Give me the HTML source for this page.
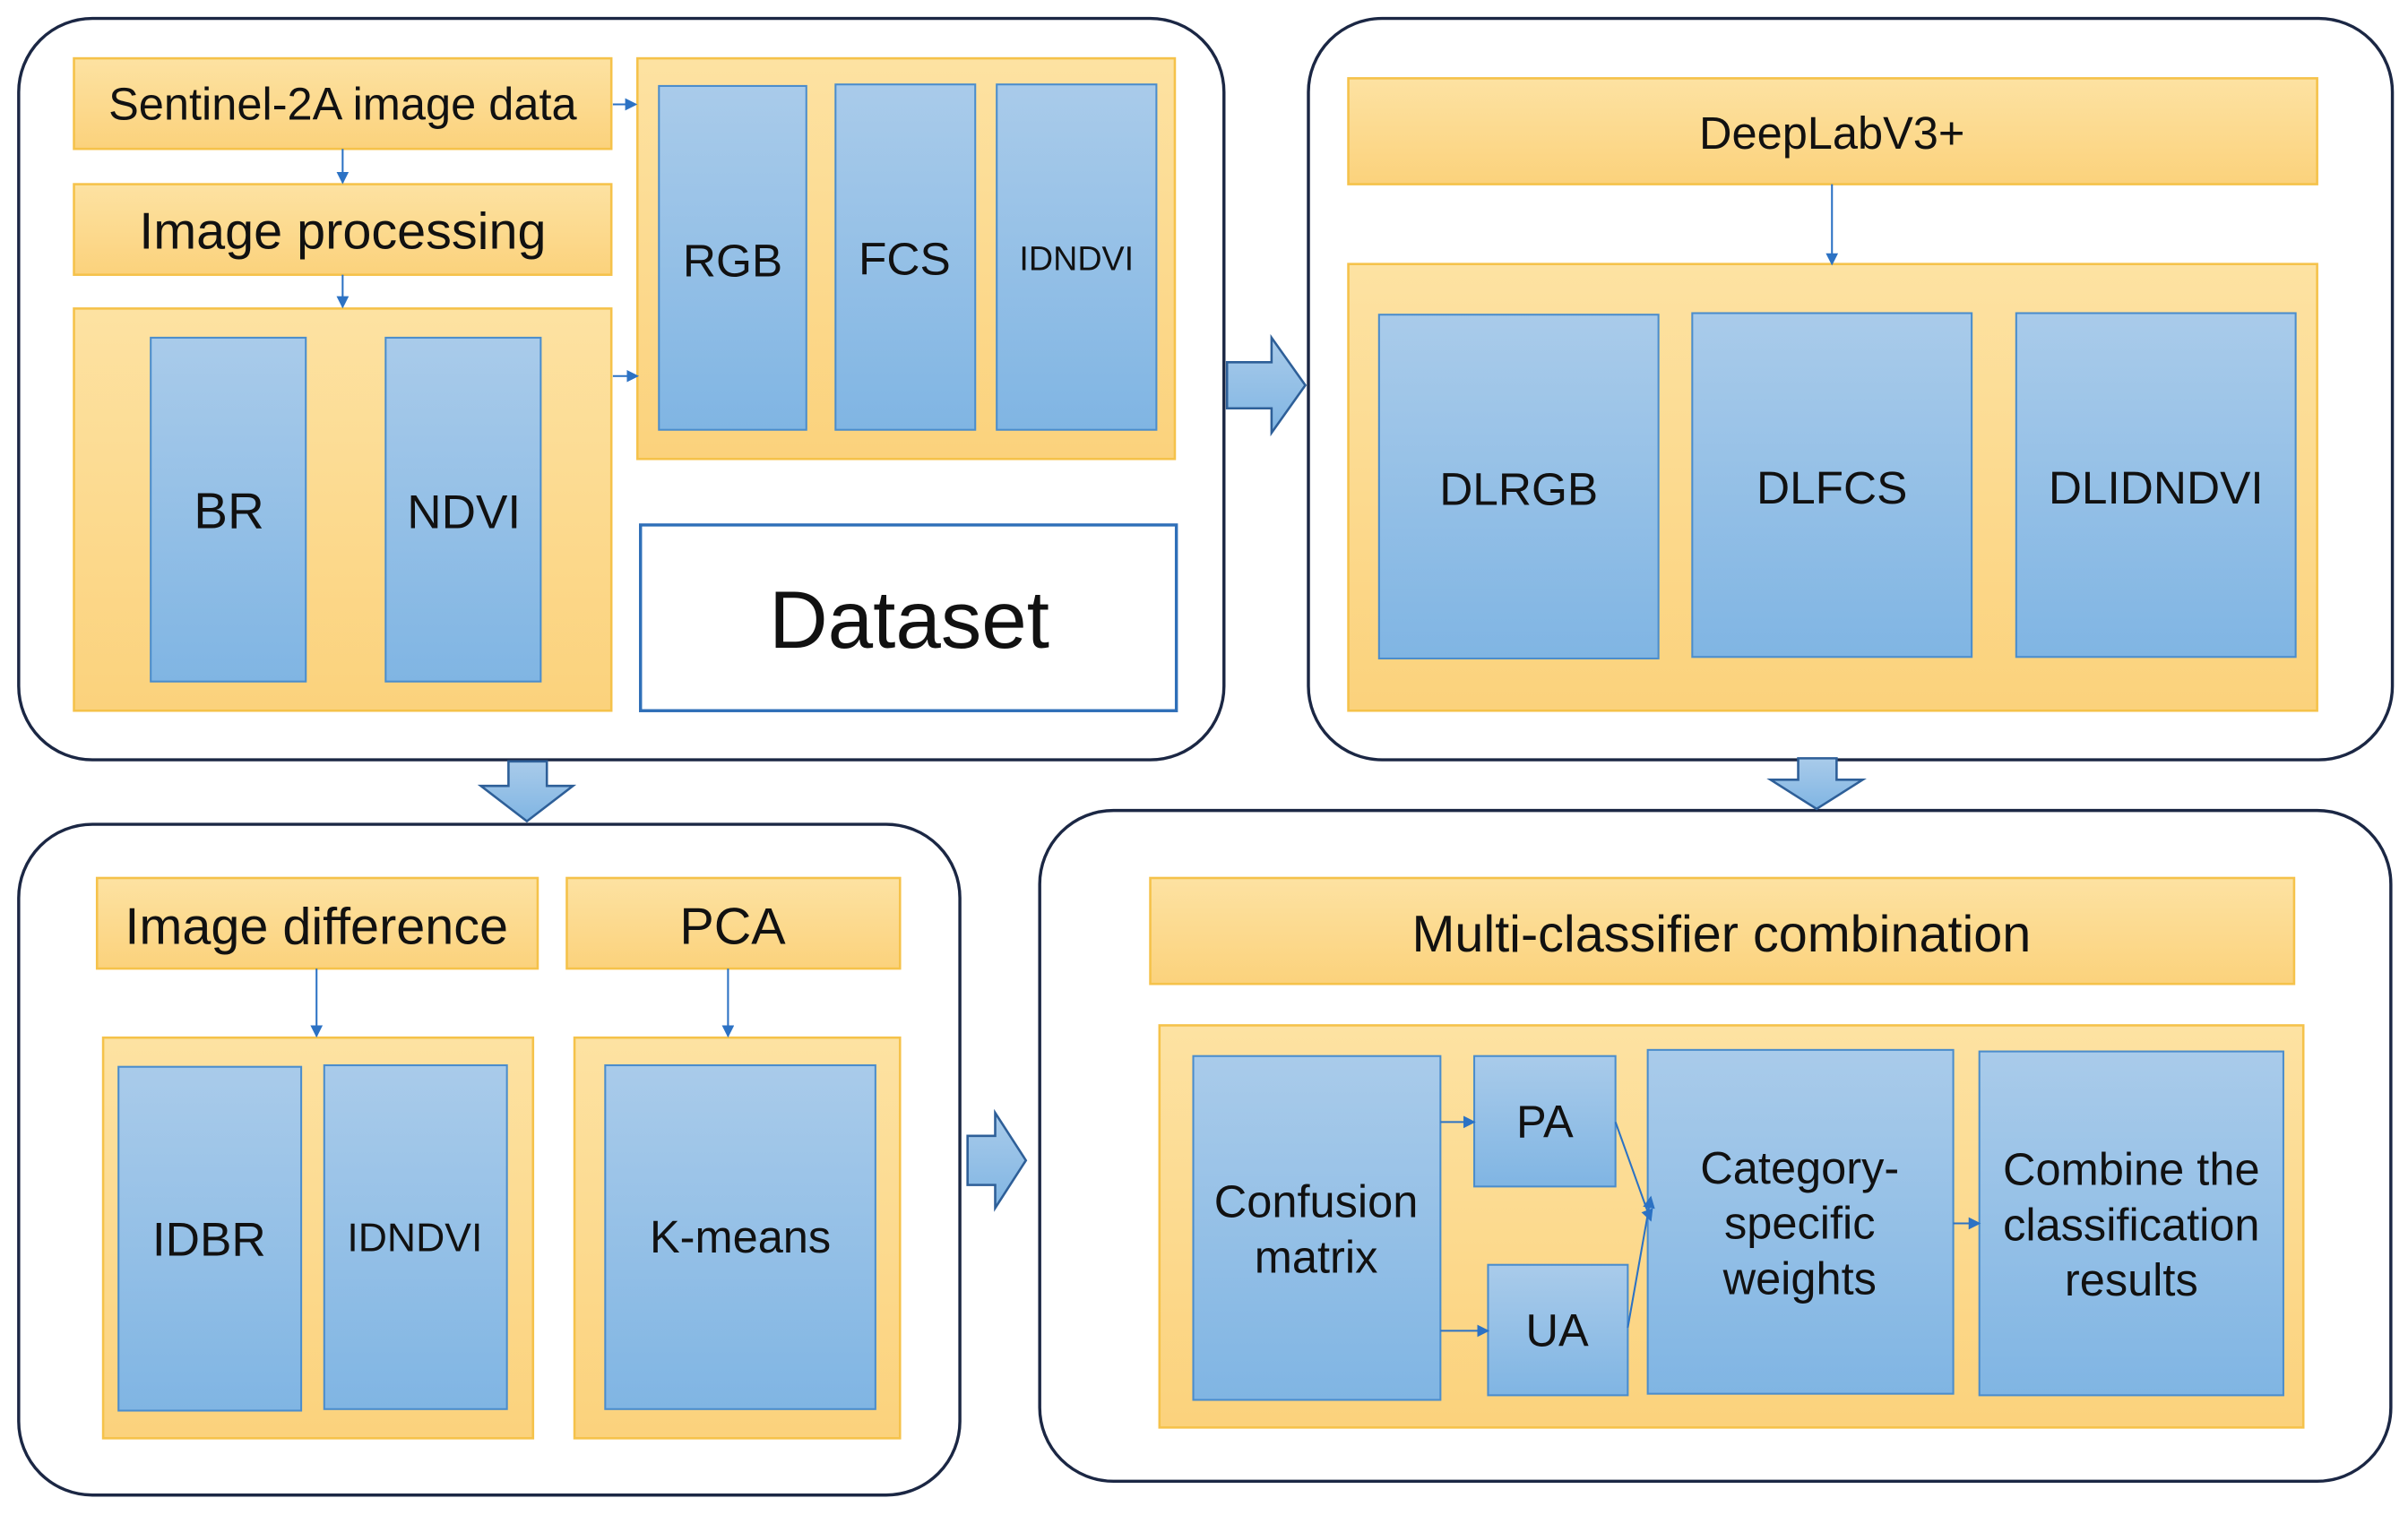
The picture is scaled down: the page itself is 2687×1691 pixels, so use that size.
<!DOCTYPE html>
<html><head><meta charset="utf-8"><style>html,body{margin:0;padding:0;background:#fff}svg{display:block}</style></head>
<body>
<svg width="2687" height="1691" viewBox="0 0 1568 987" xmlns="http://www.w3.org/2000/svg" font-family="Liberation Sans, Arial, sans-serif">
<defs>
<linearGradient id="o" x1="0" y1="0" x2="0" y2="1"><stop offset="0" stop-color="#fde2a2"/><stop offset="1" stop-color="#fbd27c"/></linearGradient>
<linearGradient id="b" x1="0" y1="0" x2="0" y2="1"><stop offset="0" stop-color="#a9cbea"/><stop offset="1" stop-color="#80b5e3"/></linearGradient>
<marker id="ah" markerWidth="8" markerHeight="8" refX="7" refY="4" orient="auto" markerUnits="userSpaceOnUse"><path d="M0,0 L8,4 L0,8 z" fill="#2c72c4"/></marker>
</defs>
<g fill="none" stroke="#1b2744" stroke-width="2">
<rect x="12" y="12" width="785" height="483" rx="48"/>
<rect x="852" y="12" width="706" height="483" rx="48"/>
<rect x="12" y="537" width="613" height="437" rx="48"/>
<rect x="677" y="528" width="880" height="437" rx="48"/>
</g>
<g fill="url(#o)" stroke="#f5c24a" stroke-width="1.5">
<rect x="48" y="38" width="350" height="59"/>
<rect x="48" y="120" width="350" height="59"/>
<rect x="48" y="201" width="350" height="262"/>
<rect x="415" y="38" width="350" height="261"/>
<rect x="878" y="51" width="631" height="69"/>
<rect x="878" y="172" width="631" height="291"/>
<rect x="63" y="572" width="287" height="59"/>
<rect x="369" y="572" width="217" height="59"/>
<rect x="67" y="676" width="280" height="261"/>
<rect x="374" y="676" width="212" height="261"/>
<rect x="749" y="572" width="745" height="69"/>
<rect x="755" y="668" width="745" height="262"/>
</g>
<g fill="url(#b)" stroke="#4b8dcc" stroke-width="1.2">
<rect x="98" y="220" width="101" height="224"/>
<rect x="251" y="220" width="101" height="224"/>
<rect x="429" y="56" width="96" height="224"/>
<rect x="544" y="55" width="91" height="225"/>
<rect x="649" y="55" width="104" height="225"/>
<rect x="898" y="205" width="182" height="224"/>
<rect x="1102" y="204" width="182" height="224"/>
<rect x="1313" y="204" width="182" height="224"/>
<rect x="77" y="695" width="119" height="224"/>
<rect x="211" y="694" width="119" height="224"/>
<rect x="394" y="694" width="176" height="224"/>
<rect x="777" y="688" width="161" height="224"/>
<rect x="960" y="688" width="92" height="85"/>
<rect x="969" y="824" width="91" height="85"/>
<rect x="1073" y="684" width="199" height="224"/>
<rect x="1289" y="685" width="198" height="224"/>
</g>
<rect x="417" y="342" width="349" height="121" fill="#fff" stroke="#2f6fb8" stroke-width="2"/>
<g stroke="#2c72c4" stroke-width="1.2" fill="none" marker-end="url(#ah)">
<line x1="223" y1="97" x2="223" y2="119"/>
<line x1="223" y1="179" x2="223" y2="200"/>
<line x1="399" y1="68" x2="414" y2="68"/>
<line x1="399" y1="245" x2="415" y2="245"/>
<line x1="1193" y1="120" x2="1193" y2="172"/>
<line x1="206" y1="631" x2="206" y2="675"/>
<line x1="474" y1="631" x2="474" y2="675"/>
<line x1="938" y1="731" x2="960" y2="731"/>
<line x1="938" y1="867" x2="969" y2="867"/>
<line x1="1052" y1="731" x2="1075" y2="795"/>
<line x1="1060" y1="865" x2="1075" y2="780"/>
<line x1="1272" y1="797" x2="1289" y2="797"/>
</g>
<g fill="url(#b)" stroke="#2e5f98" stroke-width="1.5">
<path d="M799,236 L828,236 L828,220 L850,251 L828,282 L828,266 L799,266 Z"/>
<path d="M630,740 L648,740 L648,725 L668,756 L648,787 L648,772 L630,772 Z"/>
<path d="M331,496 L356,496 L356,512 L373,512 L343,535 L313,512 L331,512 Z"/>
<path d="M1171,494 L1196,494 L1196,508 L1213,508 L1183,527 L1153,508 L1171,508 Z"/>
</g>
<g fill="#111" text-anchor="middle">
<text x="223" y="78" font-size="29.5">Sentinel-2A image data</text>
<text x="223" y="162" font-size="33.6">Image processing</text>
<text x="149" y="344" font-size="33">BR</text>
<text x="302" y="344" font-size="31">NDVI</text>
<text x="477" y="180" font-size="30">RGB</text>
<text x="589" y="179" font-size="30">FCS</text>
<text x="701" y="176" font-size="22">IDNDVI</text>
<text x="592" y="422" font-size="53">Dataset</text>
<text x="1193" y="97" font-size="29.5">DeepLabV3+</text>
<text x="989" y="329" font-size="30">DLRGB</text>
<text x="1193" y="328" font-size="30">DLFCS</text>
<text x="1404" y="328" font-size="30">DLIDNDVI</text>
<text x="206" y="615" font-size="33.6">Image difference</text>
<text x="477" y="615" font-size="33.6">PCA</text>
<text x="136" y="818" font-size="31">IDBR</text>
<text x="270" y="815" font-size="26">IDNDVI</text>
<text x="482" y="816" font-size="29.5">K-means</text>
<text x="1121" y="620" font-size="33.6">Multi-classifier combination</text>
<text x="857" y="793" font-size="29.5">Confusion</text>
<text x="857" y="829" font-size="29.5">matrix</text>
<text x="1006" y="741" font-size="29.5">PA</text>
<text x="1014" y="877" font-size="29.5">UA</text>
<text x="1172" y="771" font-size="29.5">Category-</text>
<text x="1172" y="807" font-size="29.5">specific</text>
<text x="1172" y="843" font-size="29.5">weights</text>
<text x="1388" y="772" font-size="29.5">Combine the</text>
<text x="1388" y="808" font-size="29.5">classification</text>
<text x="1388" y="844" font-size="29.5">results</text>
</g>
</svg>
</body></html>
